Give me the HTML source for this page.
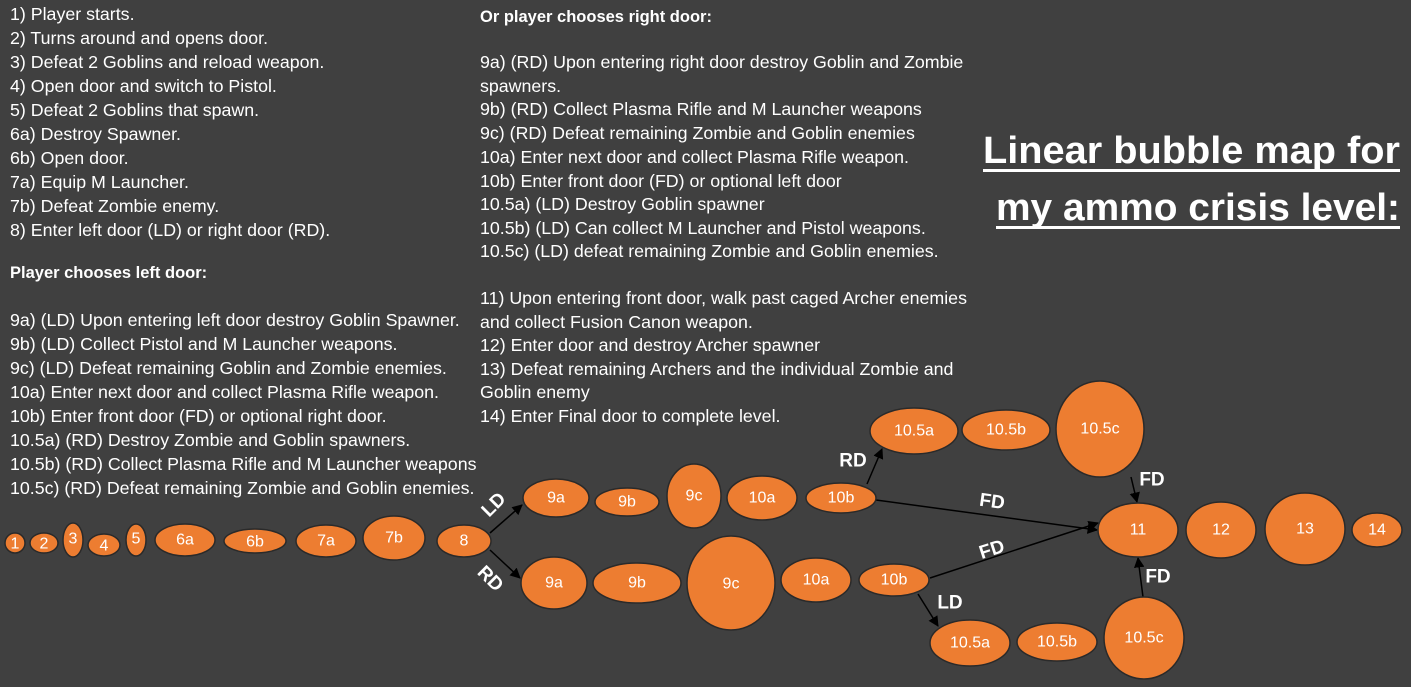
<!DOCTYPE html>
<html><head><meta charset="utf-8"><style>
html,body{margin:0;padding:0;background:#404040;}
svg{display:block}
.t{font-family:"Liberation Sans",sans-serif;font-size:17.8px;fill:#fff}
.b{font-weight:bold}
.n{font-family:"Liberation Sans",sans-serif;font-size:16px;fill:#fff;text-anchor:middle;dominant-baseline:central}
.l{font-family:"Liberation Sans",sans-serif;font-size:19px;font-weight:bold;fill:#fff;text-anchor:middle;dominant-baseline:central}
ellipse{fill:#ED7D31;stroke:#2a2a2a;stroke-width:1.5}
line{stroke:#000;stroke-width:1.5;marker-end:url(#a)}
</style></head><body>
<svg width="1411" height="687" viewBox="0 0 1411 687">
<defs><marker id="a" viewBox="0 0 10 10" refX="9" refY="5" markerWidth="7" markerHeight="7" orient="auto"><path d="M0,0L10,5L0,10z" fill="#000"/></marker></defs>
<rect width="1411" height="687" fill="#404040"/>
<g class="t">
<text x="10" y="20">1) Player starts.</text>
<text x="10" y="44">2) Turns around and opens door.</text>
<text x="10" y="68">3) Defeat 2 Goblins and reload weapon.</text>
<text x="10" y="92">4) Open door and switch to Pistol.</text>
<text x="10" y="116">5) Defeat 2 Goblins that spawn.</text>
<text x="10" y="140">6a) Destroy Spawner.</text>
<text x="10" y="164">6b) Open door.</text>
<text x="10" y="188">7a) Equip M Launcher.</text>
<text x="10" y="212">7b) Defeat Zombie enemy.</text>
<text x="10" y="236">8) Enter left door (LD) or right door (RD).</text>
<text x="10" y="278" class="b" font-size="16.5">Player chooses left door:</text>
<text x="10" y="326">9a) (LD) Upon entering left door destroy Goblin Spawner.</text>
<text x="10" y="350">9b) (LD) Collect Pistol and M Launcher weapons.</text>
<text x="10" y="374">9c) (LD) Defeat remaining Goblin and Zombie enemies.</text>
<text x="10" y="398">10a) Enter next door and collect Plasma Rifle weapon.</text>
<text x="10" y="422">10b) Enter front door (FD) or optional right door.</text>
<text x="10" y="446">10.5a) (RD) Destroy Zombie and Goblin spawners.</text>
<text x="10" y="470">10.5b) (RD) Collect Plasma Rifle and M Launcher weapons</text>
<text x="10" y="494">10.5c) (RD) Defeat remaining Zombie and Goblin enemies.</text>
<text x="480" y="22" class="b" font-size="16.5">Or player chooses right door:</text>
<text x="480" y="68">9a) (RD)  Upon entering right door destroy Goblin and Zombie</text>
<text x="480" y="92">spawners.</text>
<text x="480" y="115">9b) (RD) Collect Plasma Rifle and M Launcher weapons</text>
<text x="480" y="139">9c) (RD) Defeat remaining Zombie and Goblin enemies</text>
<text x="480" y="163">10a) Enter next door and collect Plasma Rifle weapon.</text>
<text x="480" y="187">10b) Enter front door (FD) or optional left door</text>
<text x="480" y="210">10.5a) (LD) Destroy Goblin spawner</text>
<text x="480" y="234">10.5b) (LD) Can collect M Launcher and Pistol weapons.</text>
<text x="480" y="257">10.5c) (LD) defeat remaining Zombie and Goblin enemies.</text>
<text x="480" y="304">11) Upon entering front door, walk past caged Archer enemies</text>
<text x="480" y="328">and collect Fusion Canon weapon.</text>
<text x="480" y="351">12) Enter door and destroy Archer spawner</text>
<text x="480" y="375">13) Defeat remaining Archers and the individual Zombie and</text>
<text x="480" y="398">Goblin enemy</text>
<text x="480" y="422">14) Enter Final door to complete level.</text>
</g>
<g font-family="Liberation Sans,sans-serif" font-weight="bold" font-size="38" fill="#fff">
<text x="983" y="163" textLength="417" lengthAdjust="spacingAndGlyphs">Linear bubble map for</text>
<text x="996" y="220" textLength="404" lengthAdjust="spacingAndGlyphs">my ammo crisis level:</text>
</g>
<rect x="983" y="169" width="417" height="3" fill="#fff"/>
<rect x="996" y="226" width="404" height="3" fill="#fff"/>
<line x1="490" y1="533" x2="522" y2="505"/>
<line x1="490" y1="550" x2="520" y2="578"/>
<line x1="876" y1="500" x2="1097" y2="530"/>
<line x1="867" y1="484" x2="882" y2="449"/>
<line x1="930" y1="578" x2="1098" y2="523"/>
<line x1="918" y1="594" x2="938" y2="626"/>
<line x1="1131" y1="477" x2="1137" y2="502"/>
<line x1="1143" y1="597" x2="1138" y2="558"/>
<g>
<ellipse cx="15" cy="543" rx="10" ry="10"/><text class="n" x="15" y="544">1</text>
<ellipse cx="44" cy="543" rx="14" ry="10"/><text class="n" x="44" y="544">2</text>
<ellipse cx="73" cy="540" rx="10" ry="17"/><text class="n" x="73" y="539">3</text>
<ellipse cx="104" cy="545" rx="16" ry="11"/><text class="n" x="104" y="546">4</text>
<ellipse cx="136" cy="540" rx="10" ry="16"/><text class="n" x="136" y="539">5</text>
<ellipse cx="185" cy="540" rx="30" ry="16"/><text class="n" x="185" y="540">6a</text>
<ellipse cx="255" cy="541" rx="31" ry="12"/><text class="n" x="255" y="542">6b</text>
<ellipse cx="326" cy="541" rx="30" ry="16"/><text class="n" x="326" y="541">7a</text>
<ellipse cx="394" cy="538" rx="31" ry="22"/><text class="n" x="394" y="538">7b</text>
<ellipse cx="464" cy="541" rx="27" ry="16"/><text class="n" x="464" y="541">8</text>
<ellipse cx="556" cy="498" rx="33" ry="19"/><text class="n" x="556" y="498">9a</text>
<ellipse cx="627" cy="502" rx="32" ry="14"/><text class="n" x="627" y="502">9b</text>
<ellipse cx="694" cy="496" rx="27" ry="32"/><text class="n" x="694" y="496">9c</text>
<ellipse cx="762" cy="498" rx="35" ry="22"/><text class="n" x="762" y="498">10a</text>
<ellipse cx="841" cy="498" rx="35" ry="15"/><text class="n" x="841" y="498">10b</text>
<ellipse cx="914" cy="431" rx="44" ry="23"/><text class="n" x="914" y="431">10.5a</text>
<ellipse cx="1006" cy="430" rx="44" ry="20"/><text class="n" x="1006" y="430">10.5b</text>
<ellipse cx="1100" cy="429" rx="44" ry="48"/><text class="n" x="1100" y="429">10.5c</text>
<ellipse cx="1138" cy="530" rx="40" ry="27"/><text class="n" x="1138" y="530">11</text>
<ellipse cx="1221" cy="530" rx="35" ry="28"/><text class="n" x="1221" y="530">12</text>
<ellipse cx="1305" cy="529" rx="40" ry="36"/><text class="n" x="1305" y="529">13</text>
<ellipse cx="1377" cy="530" rx="25" ry="17"/><text class="n" x="1377" y="530">14</text>
<ellipse cx="554" cy="583" rx="33" ry="26"/><text class="n" x="554" y="583">9a</text>
<ellipse cx="637" cy="583" rx="44" ry="20"/><text class="n" x="637" y="583">9b</text>
<ellipse cx="731" cy="583" rx="44" ry="47"/><text class="n" x="731" y="584">9c</text>
<ellipse cx="816" cy="580" rx="35" ry="22"/><text class="n" x="816" y="580">10a</text>
<ellipse cx="894" cy="580" rx="35" ry="16"/><text class="n" x="894" y="580">10b</text>
<ellipse cx="970" cy="643" rx="40" ry="23"/><text class="n" x="970" y="643">10.5a</text>
<ellipse cx="1057" cy="642" rx="40" ry="19"/><text class="n" x="1057" y="642">10.5b</text>
<ellipse cx="1144" cy="638" rx="40" ry="41"/><text class="n" x="1144" y="638">10.5c</text>
</g>
<text class="l" transform="translate(494,505) rotate(-45)">LD</text>
<text class="l" transform="translate(490,579) rotate(45)">RD</text>
<text class="l" x="853" y="461">RD</text>
<text class="l" x="1152" y="480">FD</text>
<text class="l" transform="translate(992,502) rotate(8)">FD</text>
<text class="l" transform="translate(992,550) rotate(-18)">FD</text>
<text class="l" x="950" y="603">LD</text>
<text class="l" x="1158" y="577">FD</text>
</svg>
</body></html>
